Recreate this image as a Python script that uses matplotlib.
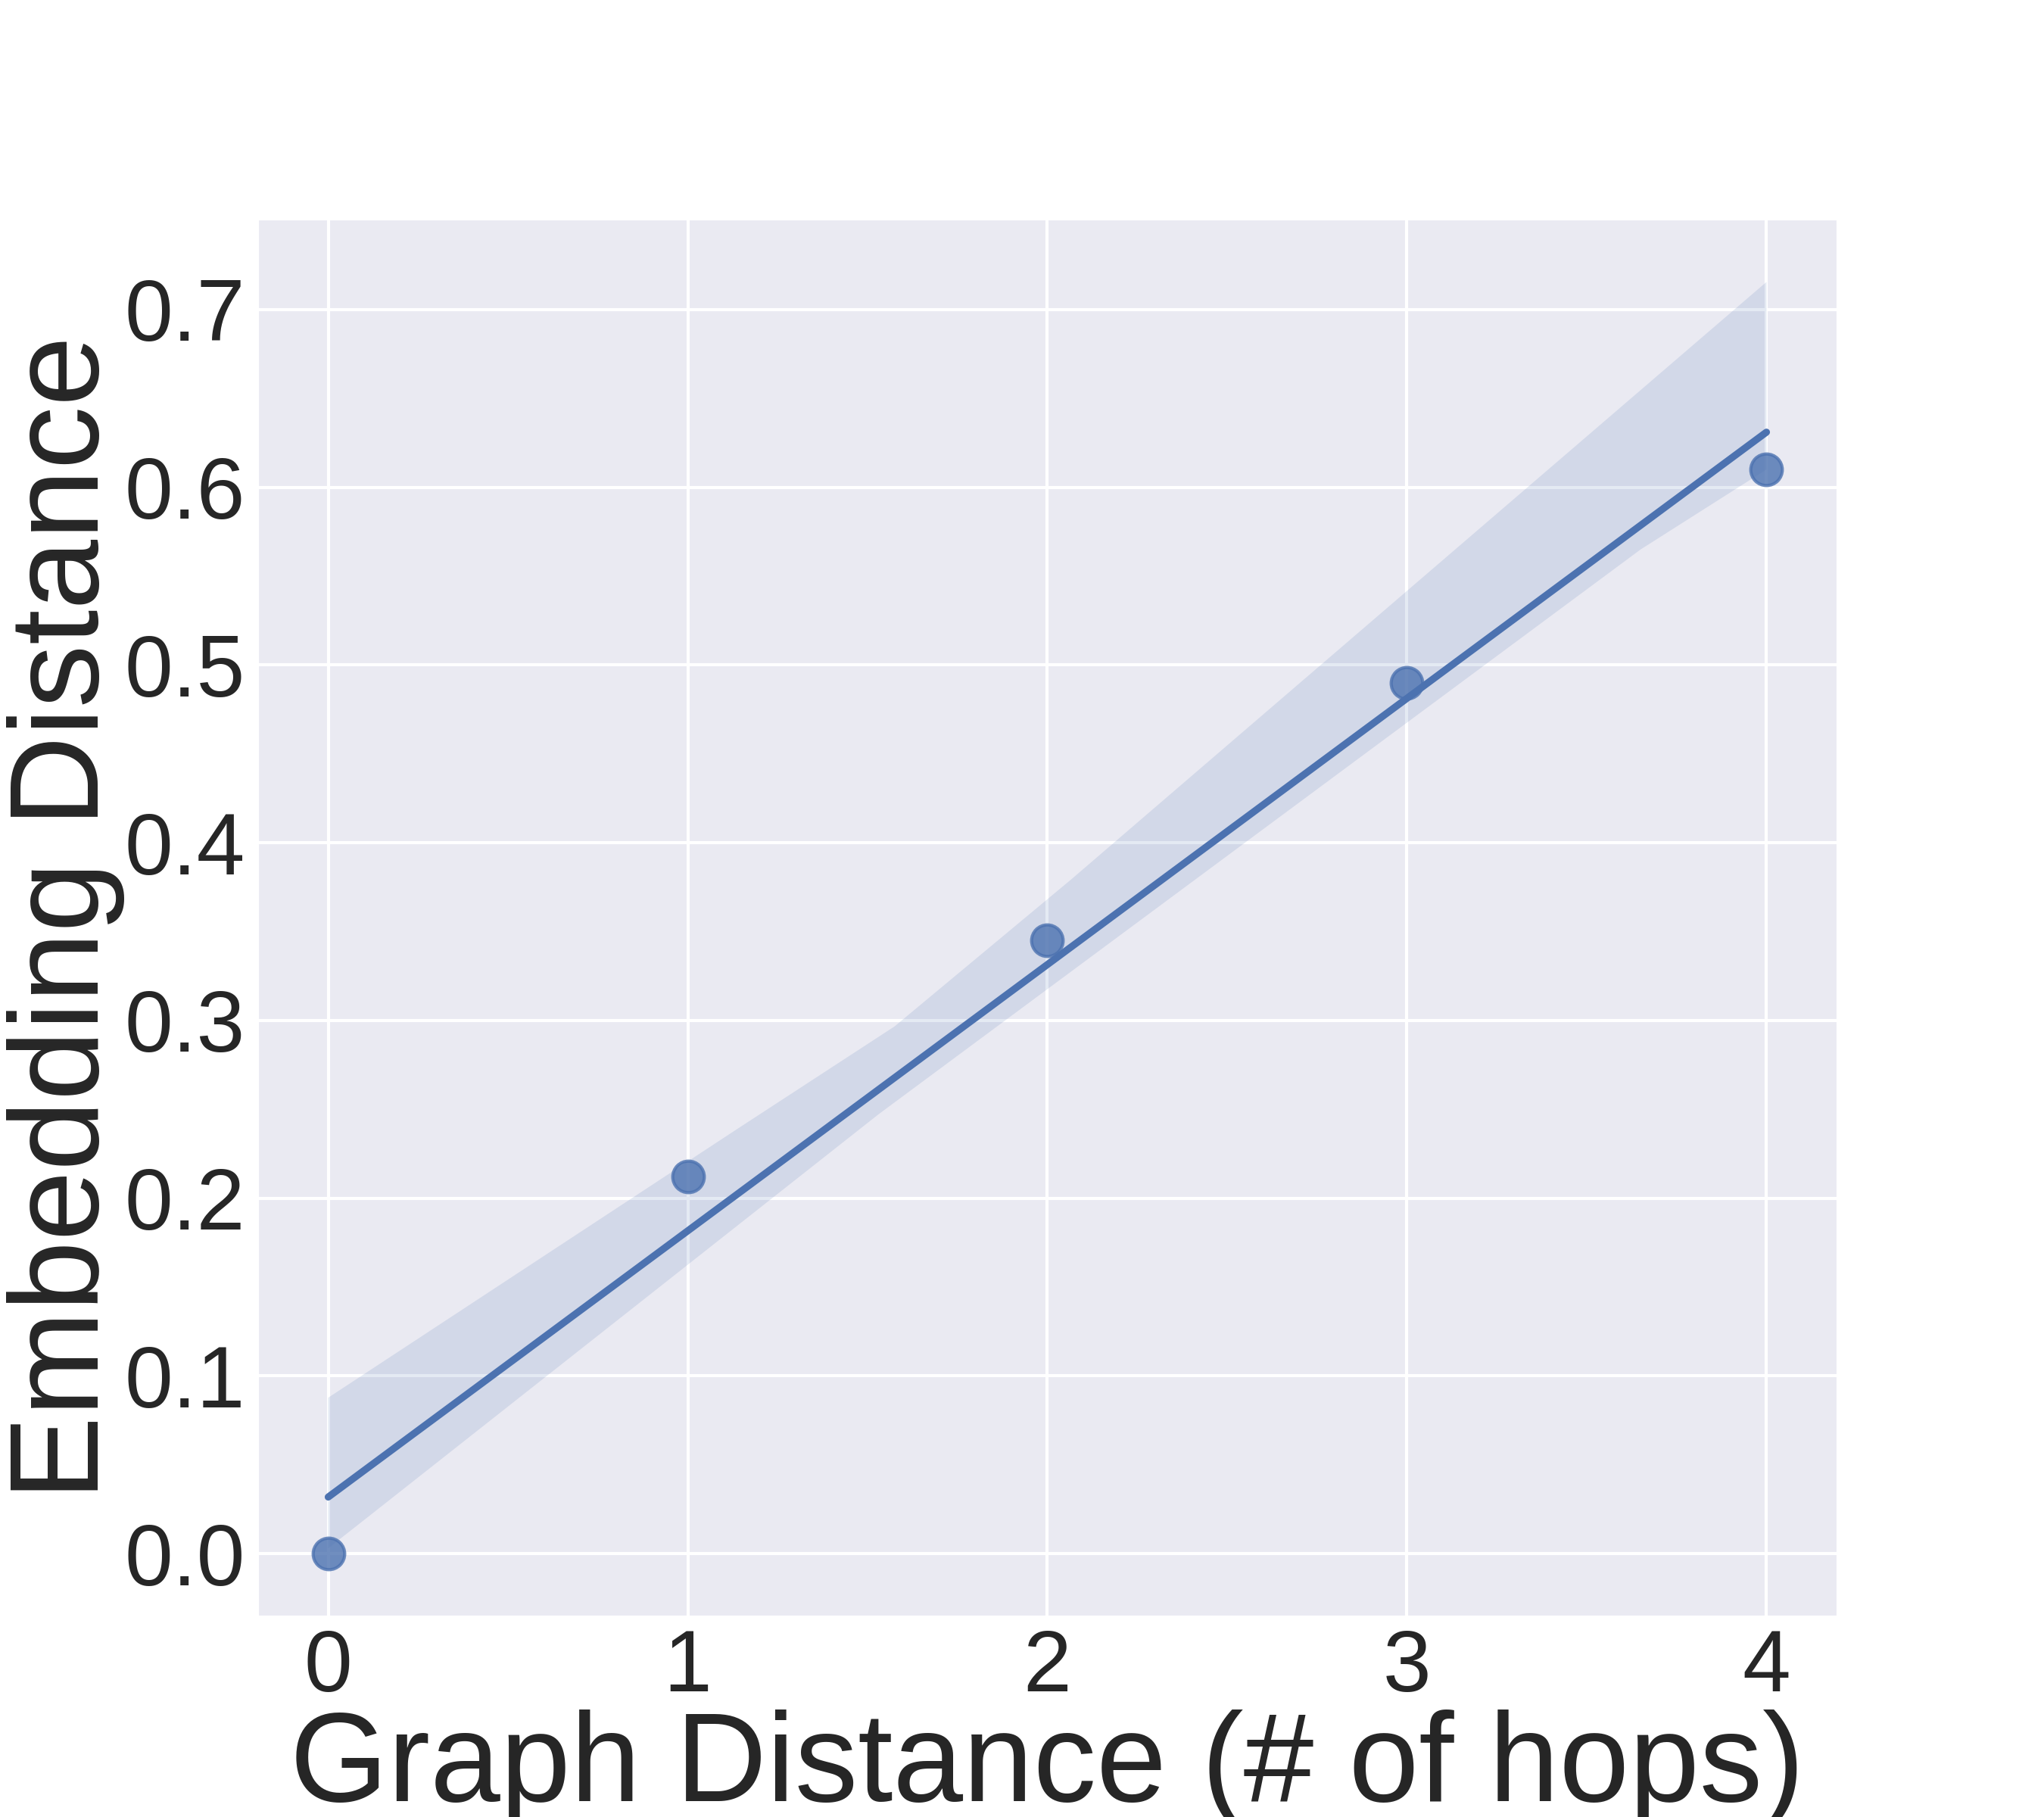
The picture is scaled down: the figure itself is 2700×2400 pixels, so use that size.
import numpy as np
import matplotlib
matplotlib.use('Agg')
import matplotlib.pyplot as plt
import seaborn as sns

# hop distance vs mean embedding distance
hops = [0, 1, 2, 3, 4]
emb_dist = [0.0, 0.212, 0.345, 0.490, 0.610]

# confidence band edges
band_up_x = [0, 1.136, 1.575, 2.068, 4]
band_up_y = [0.0877, 0.2387, 0.2966, 0.3796, 0.7155]
band_lo_x = [0, 0.13, 1.53, 3.65, 4]
band_lo_y = [0.003, 0.0237, 0.2471, 0.565, 0.610]

sns.set_theme(style='darkgrid', font_scale=2.5)
plt.rcParams['font.family'] = ['Liberation Sans', 'DejaVu Sans']

fig, ax = plt.subplots(figsize=(9, 8), dpi=300)
fig.subplots_adjust(left=0.1254, right=0.8994, bottom=0.11, top=0.8798)

sns.regplot(x=hops, y=emb_dist, ci=None, scatter_kws={'s': 100}, ax=ax)

# band on top of the scatter, like seaborn does
color = sns.color_palette()[0]
ax.fill(np.r_[band_up_x, band_lo_x[::-1]], np.r_[band_up_y, band_lo_y[::-1]],
        color=color, alpha=0.15, lw=0)

ax.set_xticks(hops)
ax.set_yticks([0.0, 0.1, 0.2, 0.3, 0.4, 0.5, 0.6, 0.7])
ax.tick_params(length=0, pad=3.5)
ax.set_xlabel('Graph Distance (# of hops)', fontsize=40, labelpad=0)
ax.set_ylabel('Embedding Distance', fontsize=40, labelpad=0)

fig.savefig('out.png', dpi=300)
